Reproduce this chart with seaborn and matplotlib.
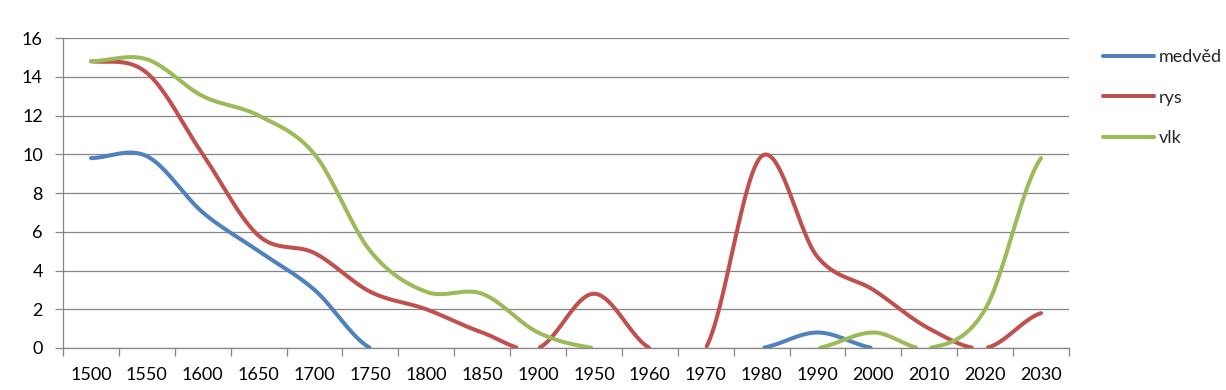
import numpy as np
import pandas as pd
import matplotlib
matplotlib.use("Agg")
import matplotlib.pyplot as plt
import seaborn as sns
from matplotlib.ticker import FixedLocator

# --- DATA ---
roky = ["1500", "1550", "1600", "1650", "1700", "1750", "1800", "1850", "1900",
        "1950", "1960", "1970", "1980", "1990", "2000", "2010", "2020", "2030"]
medved = [9.8, 9.9, 7.0, 5.0, 3.0, 0, 0, 0, 0, 0, 0, 0, 0, 0.8, 0, 0, 0, 0]
rys = [14.8, 14.2, 10.0, 5.8, 4.9, 2.9, 2.0, 0.8, 0, 2.8, 0, 0, 9.9, 4.7, 3.0, 1.0, 0, 1.8]
vlk = [14.8, 14.9, 13.0, 12.0, 10.0, 5.0, 2.9, 2.8, 0.8, 0, 0, 0, 0, 0, 0.8, 0, 2.0, 9.8]

series = {"medvěd": medved, "rys": rys, "vlk": vlk}
colors = {"medvěd": "#4F81BD", "rys": "#C0504D", "vlk": "#9BBB59"}


def smooth(vals, n=60):
    """Excel-like smoothed line (Catmull-Rom as cubic Bezier)."""
    p = np.asarray(vals, dtype=float)
    N = len(p)
    xs, ys = [], []
    t = np.linspace(0, 1, n)
    for i in range(N - 1):
        p0 = p[i - 1] if i > 0 else p[i]
        p3 = p[i + 2] if i + 2 < N else p[i + 1]
        c1 = p[i] + (p[i + 1] - p0) / 6
        c2 = p[i + 1] - (p3 - p[i]) / 6
        y = ((1 - t) ** 3 * p[i] + 3 * (1 - t) ** 2 * t * c1
             + 3 * (1 - t) * t ** 2 * c2 + t ** 3 * p[i + 1])
        xs.append(i + t)
        ys.append(y)
    return np.concatenate(xs), np.concatenate(ys)


rows = []
for name, vals in series.items():
    x, y = smooth(vals)
    visible = y > 0.02
    seg = np.cumsum(np.r_[1, np.diff(visible.astype(int)) != 0])
    for xi, yi, v, s in zip(x, y, visible, seg):
        if v:
            rows.append({"x": xi, "y": yi, "druh": name, "seg": f"{name}_{s}"})
df = pd.DataFrame(rows)

sns.set_theme(style="white")
plt.rcParams["font.family"] = ["Lato", "DejaVu Sans"]

fig = plt.figure(figsize=(12.26, 3.9), dpi=100)
ax = fig.add_axes([63 / 1226, 1 - 348 / 390, (1069 - 63) / 1226, (348 - 38) / 390])

sns.lineplot(data=df, x="x", y="y", hue="druh", units="seg", estimator=None,
             sort=False, palette=colors, linewidth=2.9, ax=ax, legend=False)

ax.set_xlim(-0.5, len(roky) - 0.5)
ax.set_ylim(0, 16)
ax.set_yticks(np.arange(0, 17, 2))
ax.yaxis.grid(True, color="#868686", linewidth=0.9)
ax.set_axisbelow(True)

# category labels at centres, tick marks between categories
ax.xaxis.set_major_locator(FixedLocator(np.arange(-0.5, len(roky), 1.0)))
ax.set_xticklabels([])
ax.xaxis.set_minor_locator(FixedLocator(np.arange(len(roky))))
ax.set_xticklabels(roky, minor=True)
ax.tick_params(axis="x", which="major", length=6, width=0.9, color="#868686", bottom=True)
ax.tick_params(axis="x", which="minor", length=0, pad=14, labelsize=13, colors="black")
ax.tick_params(axis="y", length=5.5, width=0.9, color="#868686", left=True, pad=9,
               labelsize=13, labelcolor="black")

for side in ["top", "right"]:
    ax.spines[side].set_visible(False)
for side in ["left", "bottom"]:
    ax.spines[side].set_color("#868686")
    ax.spines[side].set_linewidth(0.9)
ax.set_xlabel("")
ax.set_ylabel("")

handles = [plt.Line2D([], [], color=colors[k], linewidth=2.9) for k in series]
fig.legend(handles, list(series.keys()), loc="upper left",
           bbox_to_anchor=(1096 / 1226, 1 - 42 / 390), frameon=False,
           fontsize=13, handlelength=2.8, handletextpad=0.3, labelspacing=1.35,
           borderaxespad=0)

fig.savefig("out.png", dpi=100)
